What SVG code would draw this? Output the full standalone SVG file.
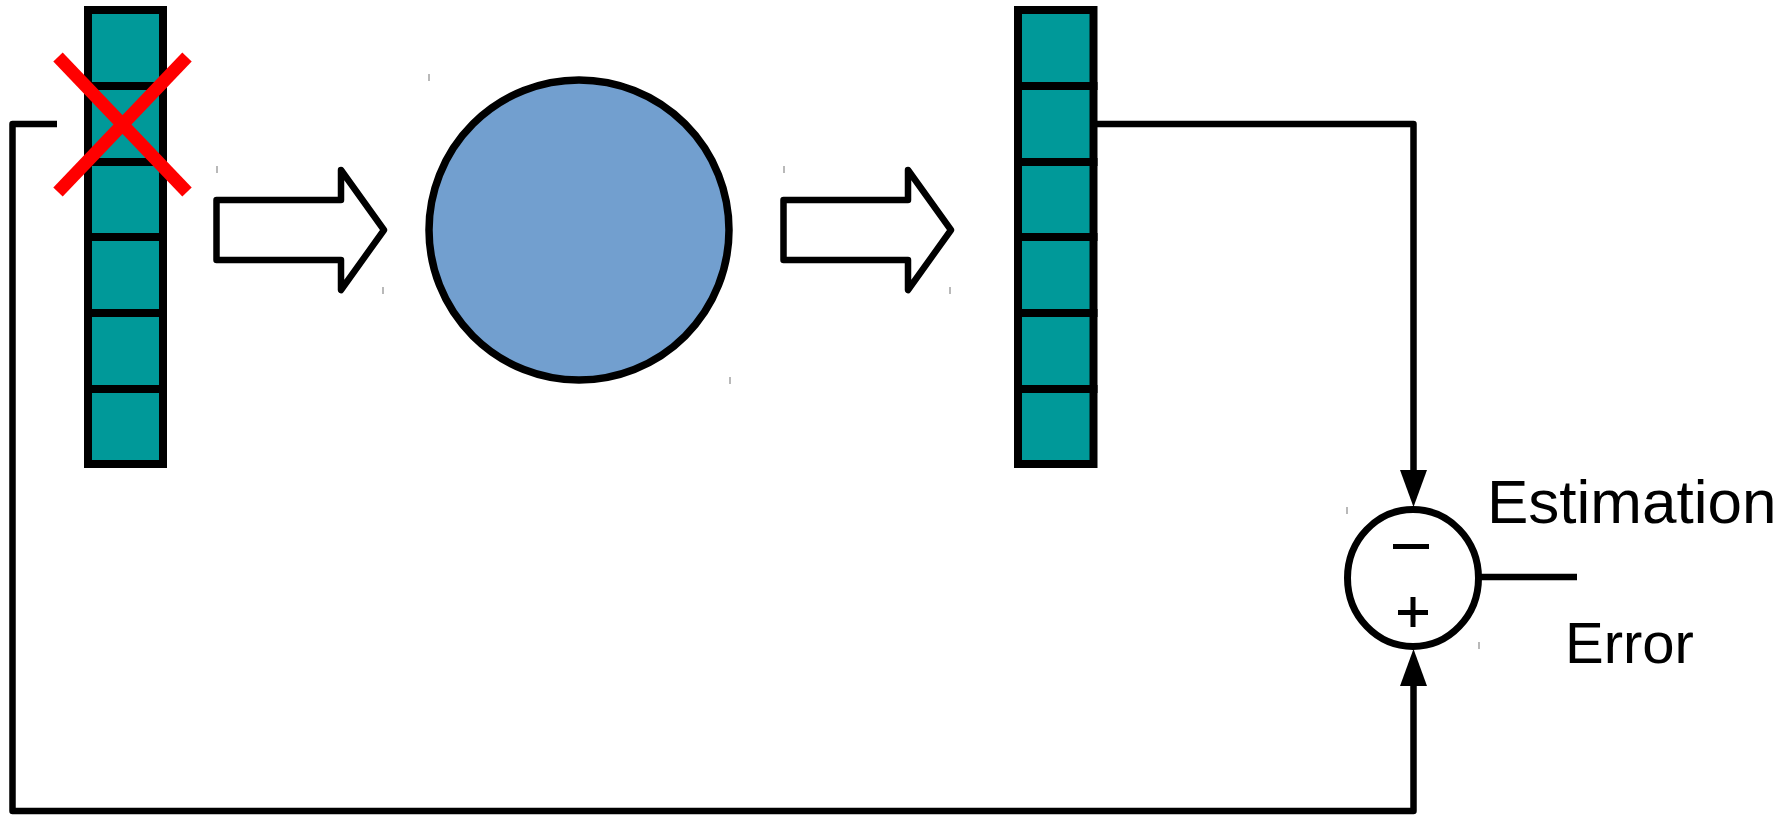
<svg xmlns="http://www.w3.org/2000/svg" width="1789" height="815" viewBox="0 0 1789 815">
  <style>
    .cell { fill: #009999; stroke: #000; stroke-width: 8; }
    .blockarrow { fill: #fff; stroke: #000; stroke-width: 6.5; stroke-linejoin: round; }
    .wire { fill: none; stroke: #000; stroke-width: 6.5; stroke-linejoin: round; }
    .tick { stroke: #8a8a8a; stroke-width: 1.2; }
    .label { font-family: "Liberation Sans", Arial, sans-serif; font-size: 62px; fill: #000; }
    .sign { stroke: #000; stroke-width: 5; }
  </style>
  <defs>
    <marker id="head" markerUnits="userSpaceOnUse" viewBox="0 0 37 27" refX="0" refY="13.5" markerWidth="37" markerHeight="27" orient="auto">
      <path d="M0,0 L37,13.5 L0,27 z" fill="#000"/>
    </marker>
  </defs>

  <rect width="1789" height="815" fill="#fff"/>

  <!-- connectors -->
  <g id="connectors">
    <polyline class="wire" points="1097,124 1413.5,124 1413.5,470" marker-end="url(#head)"/>
    <polyline class="wire" points="57,124 12.5,124 12.5,811 1413.5,811 1413.5,686" marker-end="url(#head)"/>
    <line class="wire" x1="1480" y1="577" x2="1577" y2="577"/>
  </g>

  <!-- input window (first sample dropped) -->
  <g id="input-window">
    <rect class="cell" x="88" y="10" width="75" height="76"/>
    <rect class="cell" x="88" y="86" width="75" height="76"/>
    <rect class="cell" x="88" y="162" width="75" height="75"/>
    <rect class="cell" x="88" y="237" width="75" height="76"/>
    <rect class="cell" x="88" y="313" width="75" height="76"/>
    <rect class="cell" x="88" y="389" width="75" height="75"/>
    <g stroke="#ff0000" stroke-width="13">
      <line x1="58" y1="57" x2="187" y2="192"/>
      <line x1="187" y1="57" x2="58" y2="192"/>
    </g>
  </g>

  <!-- block arrow into the model -->
  <g id="arrow-in">
    <path class="blockarrow" d="M216.5,200 H341 V170 L384,230 L341,290 V260 H216.5 Z"/>
    <line class="tick" x1="217" y1="166" x2="217" y2="173"/>
    <line class="tick" x1="383" y1="287" x2="383" y2="294"/>
  </g>

  <!-- model -->
  <g id="model">
    <circle cx="579" cy="230" r="150" fill="#729fcf" stroke="#000" stroke-width="7.5"/>
    <line class="tick" x1="429" y1="74" x2="429" y2="81"/>
    <line class="tick" x1="730" y1="377" x2="730" y2="384"/>
  </g>

  <!-- block arrow out of the model -->
  <g id="arrow-out">
    <path class="blockarrow" d="M783.5,200 H908 V170 L951,230 L908,290 V260 H783.5 Z"/>
    <line class="tick" x1="784" y1="166" x2="784" y2="173"/>
    <line class="tick" x1="950" y1="287" x2="950" y2="294"/>
  </g>

  <!-- output window -->
  <g id="output-window">
    <rect class="cell" x="1018" y="10" width="75.5" height="76"/>
    <rect class="cell" x="1018" y="86" width="75.5" height="76"/>
    <rect class="cell" x="1018" y="162" width="75.5" height="75"/>
    <rect class="cell" x="1018" y="237" width="75.5" height="76"/>
    <rect class="cell" x="1018" y="313" width="75.5" height="76"/>
    <rect class="cell" x="1018" y="389" width="75.5" height="75"/>
  </g>

  <!-- summing junction -->
  <g id="sum">
    <ellipse cx="1413" cy="578" rx="65.5" ry="68.5" fill="#fff" stroke="#000" stroke-width="7"/>
    <line class="sign" x1="1393" y1="546.5" x2="1429" y2="546.5"/>
    <line class="sign" x1="1398" y1="612.5" x2="1428" y2="612.5"/>
    <line class="sign" x1="1413" y1="597" x2="1413" y2="627"/>
    <line class="tick" x1="1347" y1="507" x2="1347" y2="514"/>
    <line class="tick" x1="1479" y1="642" x2="1479" y2="649"/>
  </g>

  <!-- labels -->
  <g id="labels">
    <text class="label" x="1487" y="523">Estimation</text>
    <text class="label" x="1565" y="663" style="font-size:58px">Error</text>
  </g>
</svg>
